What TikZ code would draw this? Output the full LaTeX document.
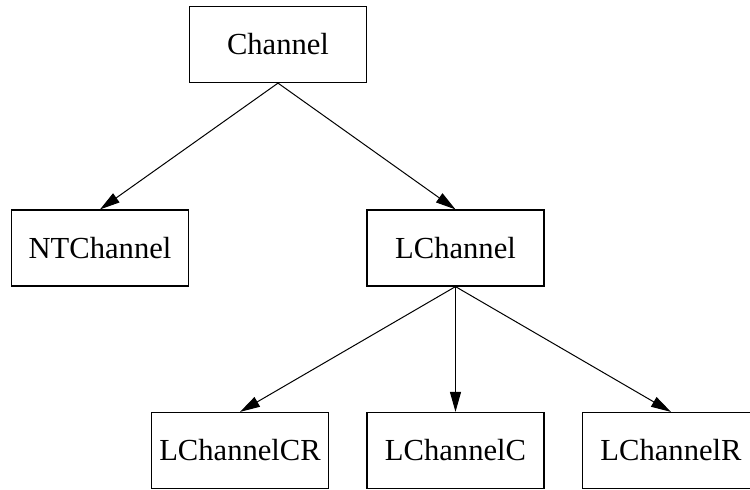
\documentclass[tikz,border=0pt]{standalone}
\usepackage{fontspec}
\setmainfont{Liberation Serif}
\usetikzlibrary{arrows.meta}

\tikzset{
  classbox/.style={draw, fill=white, line width=0.6pt, inner sep=0pt,
    minimum width=88.5pt, minimum height=38pt,
    font=\fontsize{15.3}{18}\selectfont},
  inherit/.style={-{Triangle[length=10pt,width=5.5pt]}, line width=0.5pt},
}

\begin{document}
\begin{tikzpicture}[x=0.5pt,y=-0.5pt]
  \useasboundingbox (0,0) rectangle (750,489);
  \clip (0,0) rectangle (750,489);

  % Draw the classes
  \node[classbox] (chan) at (278,44.5) {Channel};
  \node[classbox] (ntchan) at (100,248) {NTChannel};
  \node[classbox] (lchan) at (455.5,248) {LChannel};
  \node[classbox] (lchancr) at (240,450.5) {LChannelCR};
  \node[classbox] (lchanc) at (455.5,450.5) {LChannelC};
  \node[classbox] (lchanr) at (671,450.5) {LChannelR};

  % Draw the arrows
  \draw[inherit] (chan.south) -- (ntchan.north);
  \draw[inherit] (chan.south) -- (lchan.north);
  \foreach \n in {lchancr,lchanc,lchanr} {
    \draw[inherit] (lchan.south) -- (\n.north);
  }

\end{tikzpicture}
\end{document}
